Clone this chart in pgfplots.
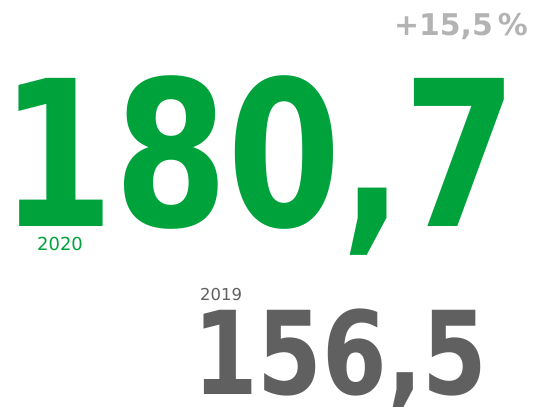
\documentclass[border=0pt]{standalone}
\usepackage{fontspec}
\usepackage{pgfplots}
\pgfplotsset{compat=1.18}
\setmainfont{DejaVu Sans}
\newfontfamily\bignum{DejaVu Sans Bold}[FakeStretch=0.805]
\newfontfamily\midnum{DejaVu Sans Bold}
\definecolor{kgreen}{HTML}{00A23C}
\definecolor{kgray}{HTML}{606060}
\definecolor{klight}{HTML}{B3B3B3}

\begin{document}
\begin{tikzpicture}
\begin{axis}[
    scale only axis, width=534bp, height=407bp,
    xmin=0, xmax=534, ymin=0, ymax=407, y dir=reverse,
    hide axis, clip=false,
    /pgf/number format/.cd, use comma, fixed, fixed zerofill, precision=1, assume math mode=true,
]
  % 2020 value
  \addplot[draw=none, mark=none, point meta=explicit, nodes near coords,
    nodes near coords style={anchor=base west, inner sep=0pt, text=kgreen, font=\bignum\fontsize{204}{204}\selectfont}]
    coordinates {(0,226) [180.7]};
  % 2019 value
  \addplot[draw=none, mark=none, point meta=explicit, nodes near coords,
    nodes near coords style={anchor=base west, inner sep=0pt, text=kgray, font=\bignum\fontsize{116}{116}\selectfont}]
    coordinates {(193,394) [156.5]};
  % change
  \addplot[draw=none, mark=none, point meta=explicit,
    nodes near coords={\pgfmathprintnumber[print sign]{\pgfplotspointmeta}\,\%},
    nodes near coords style={anchor=base east, inner sep=0pt, text=klight, font=\midnum\fontsize{30}{30}\selectfont}]
    coordinates {(528,35) [15.5]};
  % years
  \addplot[draw=none, mark=none, point meta=explicit symbolic, nodes near coords,
    nodes near coords style={anchor=base west, inner sep=0pt, text=kgreen, font=\fontsize{18}{18}\selectfont}]
    coordinates {(37,250) [2020]};
  \addplot[draw=none, mark=none, point meta=explicit symbolic, nodes near coords,
    nodes near coords style={anchor=base west, inner sep=0pt, text=kgray, font=\fontsize{16.5}{16.5}\selectfont}]
    coordinates {(200,300) [2019]};
\end{axis}
\pgfresetboundingbox
\path (current axis.south west) rectangle (current axis.north east);
\end{tikzpicture}
\end{document}
